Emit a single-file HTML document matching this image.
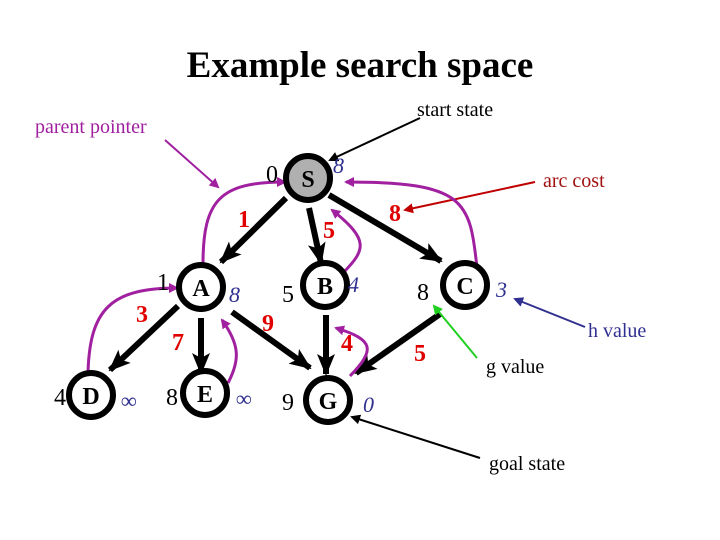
<!DOCTYPE html>
<html><head><meta charset="utf-8"><style>html,body{margin:0;padding:0;background:#fff}svg{display:block}</style></head>
<body>
<svg width="720" height="540" viewBox="0 0 720 540" xmlns="http://www.w3.org/2000/svg" font-family="Liberation Serif, serif">
<defs>
<marker id="ak" markerWidth="10" markerHeight="10" refX="8" refY="5" orient="auto" markerUnits="userSpaceOnUse" viewBox="0 0 10 10"><path d="M0,0L10,5L0,10z" fill="#000"/></marker>
<marker id="ab" markerWidth="22" markerHeight="22" refX="20" refY="11" orient="auto" markerUnits="userSpaceOnUse" viewBox="0 0 22 22"><path d="M0,2L22,11L0,20L5,11z" fill="#000"/></marker>
<marker id="ap" markerWidth="10" markerHeight="10" refX="8" refY="5" orient="auto" markerUnits="userSpaceOnUse" viewBox="0 0 10 10"><path d="M0,0L10,5L0,10z" fill="#a020a0"/></marker>
<marker id="ar" markerWidth="10" markerHeight="10" refX="8" refY="5" orient="auto" markerUnits="userSpaceOnUse" viewBox="0 0 10 10"><path d="M0,0L10,5L0,10z" fill="#c00000"/></marker>
<marker id="abl" markerWidth="10" markerHeight="10" refX="8" refY="5" orient="auto" markerUnits="userSpaceOnUse" viewBox="0 0 10 10"><path d="M0,0L10,5L0,10z" fill="#303090"/></marker>
<marker id="ag" markerWidth="10" markerHeight="10" refX="8" refY="5" orient="auto" markerUnits="userSpaceOnUse" viewBox="0 0 10 10"><path d="M0,0L10,5L0,10z" fill="#20d020"/></marker>
</defs>
<text x="360" y="77" text-anchor="middle" font-size="37" font-weight="bold">Example search space</text>
<text x="417" y="116" font-size="20">start state</text>
<text x="35" y="133" font-size="20" fill="#a020a0">parent pointer</text>
<text x="543" y="187" font-size="20" fill="#a01010">arc cost</text>
<text x="588" y="337" font-size="20" fill="#303090">h value</text>
<text x="486" y="373" font-size="20">g value</text>
<text x="489" y="470" font-size="20">goal state</text>

<g stroke="#000" stroke-width="6" fill="none">
<line x1="286" y1="198" x2="221" y2="262" marker-end="url(#ab)"/>
<line x1="309" y1="208" x2="321" y2="263" marker-end="url(#ab)"/>
<line x1="329" y1="195" x2="441" y2="261" marker-end="url(#ab)"/>
<line x1="178" y1="306" x2="110" y2="370" marker-end="url(#ab)"/>
<line x1="201" y1="318" x2="201" y2="373" marker-end="url(#ab)"/>
<line x1="232" y1="312" x2="310" y2="368" marker-end="url(#ab)"/>
<line x1="326" y1="315" x2="326" y2="374" marker-end="url(#ab)"/>
<line x1="440" y1="314" x2="356" y2="373" marker-end="url(#ab)"/>
</g>
<g stroke-width="2" fill="none">
<line x1="165" y1="140" x2="218" y2="187" stroke="#a020a0" marker-end="url(#ap)"/>
<line x1="420" y1="118" x2="330" y2="160" stroke="#000" marker-end="url(#ak)"/>
<line x1="535" y1="182" x2="405" y2="210" stroke="#c00000" marker-end="url(#ar)"/>
<line x1="585" y1="327" x2="515" y2="299" stroke="#303090" marker-end="url(#abl)"/>
<line x1="477" y1="358" x2="434" y2="306" stroke="#20d020" marker-end="url(#ag)"/>
<line x1="480" y1="458" x2="352" y2="417" stroke="#000" marker-end="url(#ak)"/>
</g>
<g stroke="#a020a0" stroke-width="3" fill="none">
<path d="M203,264 C203,200 220,182 285,182" marker-end="url(#ap)"/>
<path d="M88,372 C90,310 110,288 177,288" marker-end="url(#ap)"/>
<path d="M228,383 C240,360 240,345 222,320" marker-end="url(#ap)"/>
<path d="M344,272 C365,250 370,240 332,210" marker-end="url(#ap)"/>
<path d="M350,376 C375,350 375,340 336,328" marker-end="url(#ap)"/>
<path d="M477,268 C470,200 465,182 346,182" marker-end="url(#ap)"/>
</g>
<g stroke="#000" stroke-width="6">
<circle cx="308" cy="178" r="22" fill="#b0b0b0"/>
<circle cx="201" cy="287" r="22" fill="#fff"/>
<circle cx="325" cy="285" r="22" fill="#fff"/>
<circle cx="465" cy="285" r="22" fill="#fff"/>
<circle cx="91" cy="395" r="22" fill="#fff"/>
<circle cx="205" cy="393" r="22" fill="#fff"/>
<circle cx="328" cy="400" r="22" fill="#fff"/>
</g>
<g font-size="24" font-weight="bold" text-anchor="middle">
<text x="308" y="187">S</text><text x="201" y="296">A</text><text x="325" y="294">B</text>
<text x="465" y="294">C</text><text x="91" y="404">D</text><text x="205" y="402">E</text><text x="328" y="409">G</text>
</g>
<g font-size="24" text-anchor="middle">
<text x="272" y="182">0</text><text x="163" y="290">1</text><text x="288" y="302">5</text>
<text x="423" y="300">8</text><text x="60" y="405">4</text><text x="172" y="405">8</text><text x="288" y="410">9</text>
</g>
<g font-size="22" font-style="italic" fill="#303090">
<text x="333" y="173">8</text><text x="229" y="302">8</text><text x="348" y="292">4</text>
<text x="496" y="297">3</text><text x="121" y="408">∞</text><text x="236" y="406">∞</text><text x="363" y="412">0</text>
</g>
<g font-size="24" font-weight="bold" fill="#e00000" text-anchor="middle">
<text x="244" y="227">1</text><text x="329" y="238">5</text><text x="395" y="221">8</text>
<text x="142" y="322">3</text><text x="178" y="350">7</text><text x="268" y="331">9</text>
<text x="347" y="351">4</text><text x="420" y="361">5</text>
</g>
</svg>
</body></html>
